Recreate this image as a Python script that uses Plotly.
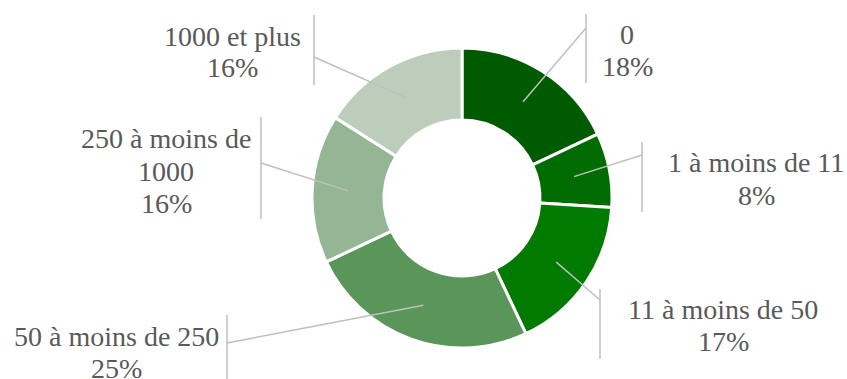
import math
import plotly.graph_objects as go

# ---- data ----
categories = ["0", "1 à moins de 11", "11 à moins de 50", "50 à moins de 250",
              "250 à moins de 1000", "1000 et plus"]
values = [18, 8, 17, 25, 16, 16]

# ---- styles ----
colors = ["#005a00", "#006b00", "#007a00", "#5a965a", "#94b694", "#bccdbc"]
W, H = 847, 379
CX, CY, R_OUT, R_IN = 462, 198, 150, 78
FONT = "Liberation Serif"
FONT_SIZE = 28
LINE_GAP = 32
TEXT_COLOR = "#595959"
LINE_COLOR = "#bfbfbf"

# label layout (pixels): label centre x, first line centre y, bar x, bar top, bar bottom, elbow y
label_cx = [627, 756, 723, 116, 166, 232]
label_y1 = [34, 163, 309, 336, 139, 36]
bar_x = [586, 642, 600, 227, 261, 314]
bar_y0 = [14, 142, 289, 315, 117, 15]
bar_y1 = [83, 212, 359, 379, 219, 85]
elbow_y = [28, 155, 300, 343, 163, 57]
wrap = {"250 à moins de 1000": ["250 à moins de", "1000"]}

def px(x):
    return x / W

def py(y):
    return 1 - y / H

fig = go.Figure(go.Pie(
    labels=categories, values=values, sort=False, direction="clockwise",
    rotation=0, hole=R_IN / R_OUT, textinfo="none", hoverinfo="label+percent",
    marker=dict(colors=colors, line=dict(color="white", width=3)),
    domain=dict(x=[px(CX - R_OUT), px(CX + R_OUT)], y=[py(CY + R_OUT), py(CY - R_OUT)]),
    showlegend=False,
))

total = sum(values)
shapes, annotations = [], []
cum = 0
r_mid = (R_OUT + R_IN) / 2
for i, (name, v) in enumerate(zip(categories, values)):
    mid = (cum + v / 2) / total * 2 * math.pi
    cum += v
    sx = CX + r_mid * math.sin(mid)
    sy = CY - r_mid * math.cos(mid)
    shapes.append(dict(type="line", xref="paper", yref="paper",
                       x0=px(sx), y0=py(sy), x1=px(bar_x[i]), y1=py(elbow_y[i]),
                       line=dict(color=LINE_COLOR, width=1.5)))
    shapes.append(dict(type="line", xref="paper", yref="paper",
                       x0=px(bar_x[i]), y0=py(bar_y0[i]), x1=px(bar_x[i]), y1=py(bar_y1[i]),
                       line=dict(color=LINE_COLOR, width=1.5)))
    pct = f"{round(v / total * 100)}%"
    lines = wrap.get(name, [name]) + [pct]
    for k, t in enumerate(lines):
        annotations.append(dict(xref="paper", yref="paper", x=px(label_cx[i]),
                                y=py(label_y1[i] + k * LINE_GAP),
                                xanchor="center", yanchor="middle", showarrow=False,
                                text=t, font=dict(family=FONT, size=FONT_SIZE, color=TEXT_COLOR)))

fig.update_layout(width=W, height=H, margin=dict(l=0, r=0, t=0, b=0),
                  paper_bgcolor="white", plot_bgcolor="white",
                  shapes=shapes, annotations=annotations)
fig.write_html("out.html", config={"displayModeBar": False},
               post_script="document.body.style.margin='0';")
